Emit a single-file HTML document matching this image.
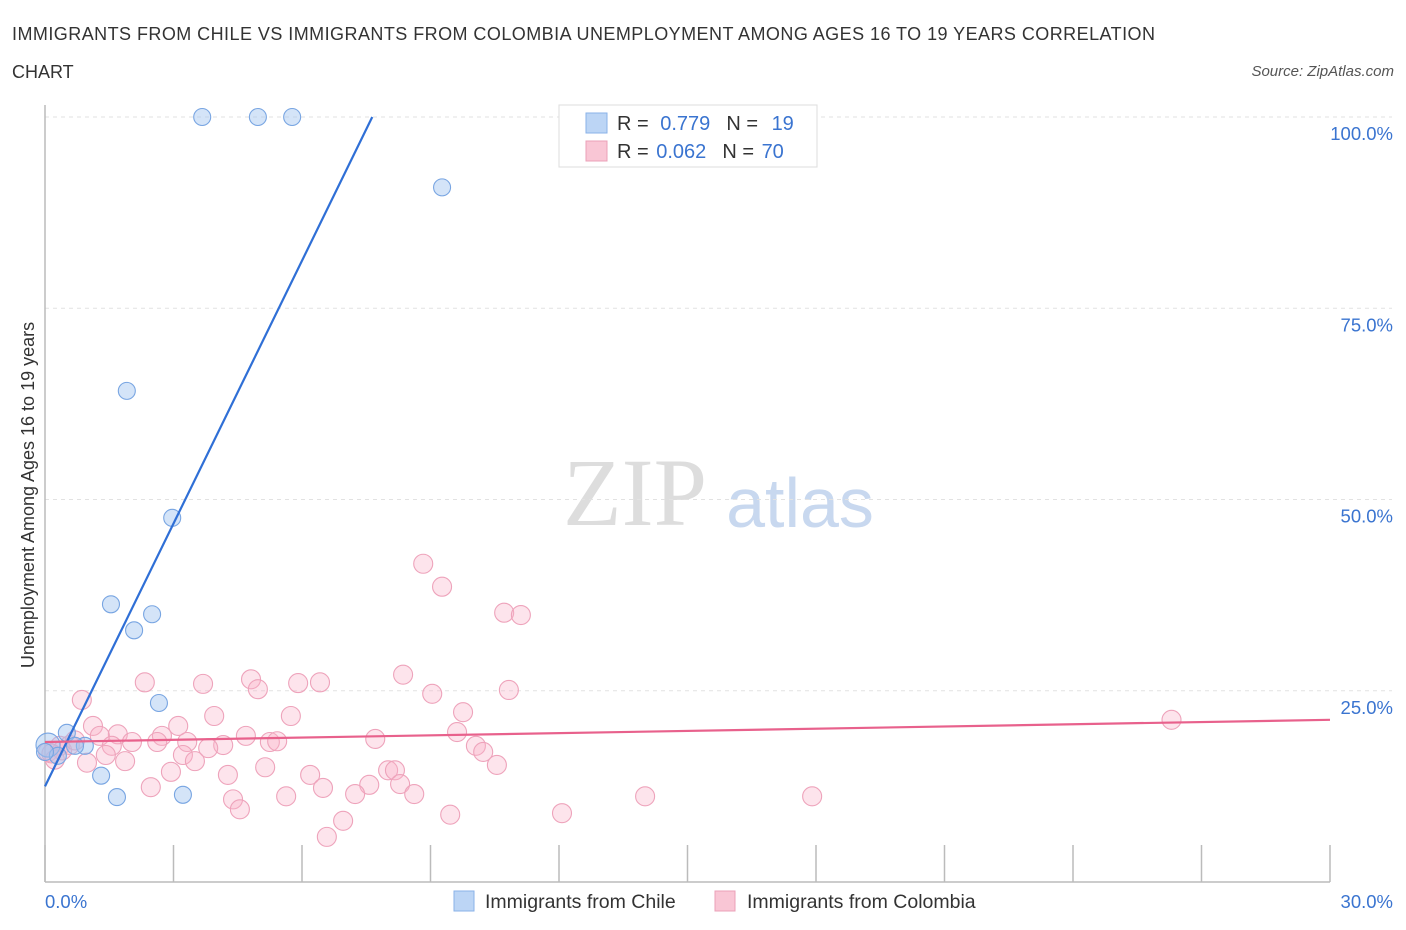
<!DOCTYPE html>
<html><head><meta charset="utf-8"><style>
body{margin:0;background:#fff;font-family:"Liberation Sans",sans-serif;}
svg{display:block}
</style></head><body>
<svg id="chart" width="1406" height="930">
<text x="12" y="40" font-size="18" fill="#333" textLength="1143">IMMIGRANTS FROM CHILE VS IMMIGRANTS FROM COLOMBIA UNEMPLOYMENT AMONG AGES 16 TO 19 YEARS CORRELATION</text>
<text x="12" y="78" font-size="18" fill="#333">CHART</text>
<text x="1394" y="76" font-size="15" fill="#555" text-anchor="end" font-style="italic">Source: ZipAtlas.com</text>
<text x="635" y="525" font-size="96" fill="#ddd" text-anchor="middle" font-family="Liberation Serif,serif">ZIP</text>
<text x="800" y="527" font-size="70" fill="#c8d8ef" text-anchor="middle">atlas</text>
<g id="grid"></g><g id="axes"></g><g id="marks"></g>
<text transform="translate(34,495) rotate(-90)" font-size="18" fill="#333" text-anchor="middle">Unemployment Among Ages 16 to 19 years</text>
<g>
<rect x="559" y="105" width="258" height="62" fill="#fff" stroke="#ddd"/>
<rect x="586" y="113" width="21" height="20" fill="#bcd5f5" stroke="#8ab2e8"/>
<rect x="586" y="141" width="21" height="20" fill="#f9c6d5" stroke="#eba0b8"/>
<text x="617" y="130" font-size="20" fill="#333">R = <tspan fill="#3a74d0" dx="6">0.779</tspan><tspan dx="16">N = </tspan><tspan fill="#3a74d0" dx="8">19</tspan></text>
<text x="617" y="158" font-size="20" fill="#333">R = <tspan fill="#3a74d0" dx="2">0.062</tspan><tspan dx="16">N = </tspan><tspan fill="#3a74d0" dx="2">70</tspan></text>
</g>
<g>
<rect x="454" y="891" width="20" height="20" fill="#bcd5f5" stroke="#8ab2e8"/>
<text x="485" y="908" font-size="19.5" fill="#333">Immigrants from Chile</text>
<rect x="715" y="891" width="20" height="20" fill="#f9c6d5" stroke="#eba0b8"/>
<text x="747" y="908" font-size="19.5" fill="#333">Immigrants from Colombia</text>
</g>
</svg>
<script>
const yTicks=[25,50,75,100];
const yTickLabels=["25.0%","50.0%","75.0%","100.0%"];
const xTickLabels=["0.0%","30.0%"];
const chileX=[3.67,4.97,5.77,9.27,1.91,2.97,1.54,2.50,2.08,2.66,0.51,0.93,0.70,0.07,0.30,1.31,1.68,3.22,0.0];
const chileY=[100,100,100,90.8,64.2,47.6,36.3,35.0,32.9,23.4,19.5,17.8,17.8,17.9,16.5,13.9,11.1,11.4,17.0];
const colX=[0.86,2.33,3.69,4.81,4.97,5.91,6.42,8.36,9.04,10.83,8.83,9.27,10.72,11.11,26.3,1.12,3.11,3.95,5.74,9.76,9.62,1.70,2.73,4.69,7.71,1.28,2.03,2.62,3.32,4.16,5.25,5.42,3.81,1.56,10.06,0.35,1.42,1.87,3.22,3.50,0.98,10.23,10.55,5.14,2.94,4.27,6.19,8.01,8.17,8.29,7.57,2.47,6.49,4.39,5.63,7.24,8.62,4.55,6.96,6.58,9.46,12.07,14.01,17.91,0.07,0.58,0.23,0.4,0.15,0.7];
const colY=[23.8,26.1,25.9,26.5,25.2,26.0,26.1,27.1,24.6,25.1,41.6,38.6,35.2,34.9,21.2,20.4,20.4,21.7,21.7,22.2,19.6,19.3,19.1,19.1,18.7,19.1,18.3,18.3,18.3,17.9,18.3,18.4,17.5,17.8,17.8,17.8,16.6,15.8,16.6,15.8,15.6,17.0,15.3,15.0,14.4,14.0,14.0,14.6,14.6,12.8,12.7,12.4,12.3,10.8,11.2,11.5,11.5,9.5,8.0,5.9,8.8,9.0,11.2,11.2,17.0,17.9,16.0,17.2,16.8,18.5];
const chileTrend=[0,12.5,7.64,100];
const colTrend=[0,18.3,30,21.2];
const NS="http://www.w3.org/2000/svg";
const sx=v=>45+v/30*1285, sy=v=>882-v/100*765;
function mk(tag,attrs,parent){const e=document.createElementNS(NS,tag);for(const k in attrs)e.setAttribute(k,attrs[k]);document.getElementById(parent).appendChild(e);return e;}
yTicks.forEach((t,i)=>{
 const l=mk('line',{x1:45,x2:1392,y1:sy(t),y2:sy(t),stroke:'#e2e2e2','stroke-dasharray':'4,4'},'grid');
 
 
 const tx=mk('text',{x:1393,y:sy(t)+23,'font-size':18.5,fill:'#3a74d0','text-anchor':'end'},'grid');tx.textContent=yTickLabels[i];
 
 
});
const ax=mk('line',{x1:45,x2:45,y1:105,y2:882,stroke:'#bbb','stroke-width':1.5},'axes');


const bx=mk('line',{x1:45,x2:1330,y1:882,y2:882,stroke:'#bbb','stroke-width':1.5},'axes');


for(let i=0;i<=10;i++){const t=mk('line',{x1:sx(i*3),x2:sx(i*3),y1:845,y2:882,stroke:'#bbb','stroke-width':1.5},'axes');
 
 }
[[0,'start',45],[30,'end',1393]].forEach((d,i)=>{const t=mk('text',{x:d[2],y:908,'font-size':18.5,fill:'#3a74d0','text-anchor':d[1]},'axes');t.textContent=xTickLabels[i];
 
 });
colX.forEach((x,i)=>{const c=mk('circle',{cx:sx(x),cy:sy(colY[i]),r:9.5,fill:'rgba(248,178,200,0.35)',stroke:'#eea3bb','stroke-width':1.1},'marks');
 
 });
chileX.forEach((x,i)=>{const c=mk('circle',{cx:sx(x),cy:sy(chileY[i]),r:i==13?12:8.5,fill:'rgba(160,195,240,0.45)',stroke:'#78a5e2','stroke-width':1.1},'marks');
 
 });
const l1=mk('line',{x1:sx(chileTrend[0]),y1:sy(chileTrend[1]),x2:sx(chileTrend[2]),y2:sy(chileTrend[3]),stroke:'#2f6fd6','stroke-width':2.2},'marks');


const l2=mk('line',{x1:sx(colTrend[0]),y1:sy(colTrend[1]),x2:sx(colTrend[2]),y2:sy(colTrend[3]),stroke:'#e8618c','stroke-width':2.2},'marks');


</script>
</body></html>
